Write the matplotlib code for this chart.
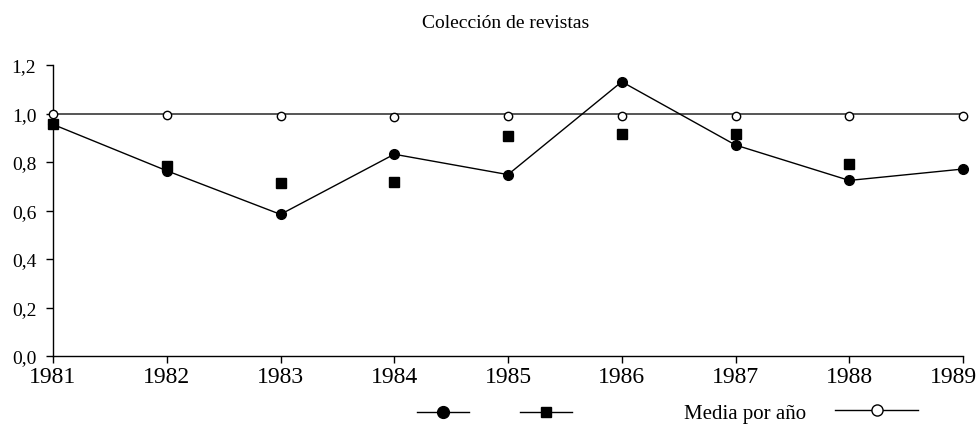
import matplotlib
matplotlib.use("Agg")
import matplotlib.pyplot as plt
import matplotlib.transforms as mtransforms
import numpy as np
from matplotlib.lines import Line2D

years = [1981, 1982, 1983, 1984, 1985, 1986, 1987, 1988, 1989]
serie_circulos = [0.955, 0.764, 0.584, 0.832, 0.748, 1.131, 0.870, 0.724, 0.771]
serie_cuadrados = [0.955, 0.782, 0.713, 0.719, 0.906, 0.917, 0.917, 0.793, np.nan]
media_por_anio = [0.998, 0.995, 0.991, 0.986, 0.991, 0.991, 0.991, 0.990, 0.990]
referencia = 1.0
yticks = [0.0, 0.2, 0.4, 0.6, 0.8, 1.0, 1.2]
ytick_labels = ["0,0", "0,2", "0,4", "0,6", "0,8", "1,0", "1,2"]
title = "Colección de revistas"
legend_label = "Media por año"

plt.rcParams['font.family'] = ['Liberation Serif', 'DejaVu Serif']

fig = plt.figure(figsize=(9.79, 4.27), dpi=100)
ax = fig.add_axes([53/979, 1 - 357/427, (963-53)/979, (357-66)/427])

ax.axhline(referencia, color='#555555', lw=1.4, zorder=1)
ax.plot(years, serie_circulos, color='black', lw=1.0, marker='o', ms=7,
        markerfacecolor='black', markeredgecolor='black', zorder=3, clip_on=False)
ax.plot(years, serie_cuadrados, linestyle='none', marker='s', ms=7,
        markerfacecolor='black', markeredgecolor='black', zorder=3, clip_on=False)
ax.plot(years, media_por_anio, linestyle='none', marker='o', ms=6,
        markerfacecolor='white', markeredgecolor='black', mew=1.0, zorder=4, clip_on=False)

ax.set_xlim(years[0], years[-1])
ax.set_ylim(0, 1.2)
ax.set_xticks(years)
ax.set_xticklabels([str(y) for y in years], fontsize=17)
ax.set_yticks(yticks)
ax.set_yticklabels(ytick_labels, fontsize=14)
for s in ['top', 'right']:
    ax.spines[s].set_visible(False)
for s in ['left', 'bottom']:
    ax.spines[s].set_linewidth(1.0)
ax.tick_params(axis='both', direction='out', length=5, width=1.0)
ax.tick_params(axis='y', pad=7)
ax.tick_params(axis='x', pad=2)

# keep the last year label inside the figure, as in the reference
last = ax.get_xticklabels()[-1]
last.set_transform(last.get_transform() + mtransforms.ScaledTranslation(-10/100, 0, fig.dpi_scale_trans))

fig.text(506/979, 1 - 24/427, title, ha='center', va='center', fontsize=14)

h1 = Line2D([], [], color='black', lw=1.0, marker='o', ms=8.5, markerfacecolor='black')
h2 = Line2D([], [], color='black', lw=1.0, marker='s', ms=7, markerfacecolor='black')
h3 = Line2D([], [], color='black', lw=1.0, marker='o', ms=8, markerfacecolor='white')

kw = dict(frameon=False, loc='center', borderpad=0, borderaxespad=0)
fig.legend([h1], [''], bbox_to_anchor=(443/979, 1 - 414/427), handlelength=3.8,
           handletextpad=0.0, **kw)
fig.legend([h2], [''], bbox_to_anchor=(546/979, 1 - 414/427), handlelength=3.8,
           handletextpad=0.0, **kw)
fig.legend([h3], [legend_label], bbox_to_anchor=(801/979, 1 - 414/427), handlelength=4.0,
           handletextpad=1.4, markerfirst=False, prop={'size': 15}, **kw)

fig.savefig('out.png', dpi=100)
